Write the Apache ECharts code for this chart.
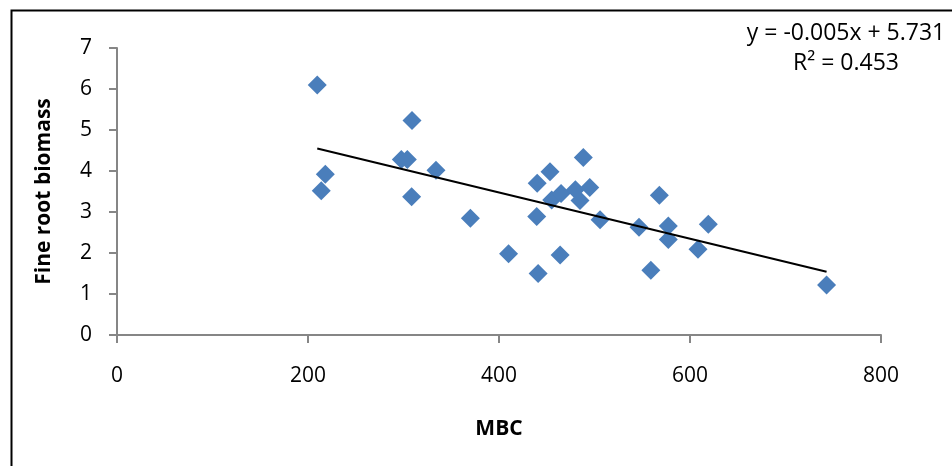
<!DOCTYPE html>
<html>
<head>
<meta charset="utf-8">
<script src="https://cdn.jsdelivr.net/npm/echarts@6/dist/echarts.min.js"></script>
<style>
html,body{margin:0;padding:0;background:#fff;}
#chart{width:952px;height:466px;}
</style>
</head>
<body>
<div id="chart"></div>
<script>
var mbc = [209.7,308.9,218.1,213.9,297.7,304,334,308.5,370,410,440,453.4,488.3,439.5,455.2,465,480,495,484.8,505.8,464,441,546.6,559,567.9,577.3,577.3,619.2,608.4,743];
var fineRoot = [6.10,5.23,3.92,3.52,4.28,4.28,4.02,3.37,2.85,1.98,3.70,3.98,4.33,2.89,3.29,3.45,3.54,3.60,3.28,2.81,1.95,1.50,2.63,1.58,3.41,2.66,2.33,2.70,2.09,1.22];
var xTicks = [0,200,400,600,800];
var yTicks = [0,1,2,3,4,5,6,7];
var equationText = 'y = -0.005x + 5.731';
var r2Text = 'R² = 0.453';
var xTitle = 'MBC';
var yTitle = 'Fine root biomass';

// least-squares trend line derived from the data
var n = mbc.length, sx=0, sy=0, sxx=0, sxy=0;
for (var i=0;i<n;i++){sx+=mbc[i];sy+=fineRoot[i];sxx+=mbc[i]*mbc[i];sxy+=mbc[i]*fineRoot[i];}
var slope = (n*sxy - sx*sy)/(n*sxx - sx*sx);
var intercept = (sy - slope*sx)/n;
var xmin = Math.min.apply(null, mbc), xmax = Math.max.apply(null, mbc);
var trend = [[xmin, intercept + slope*xmin],[xmax, intercept + slope*xmax]];

var points = mbc.map(function(x,i){return [x, fineRoot[i]];});
var font = '"Open Sans", sans-serif';
var axisColor = '#868686';

var chart = echarts.init(document.getElementById('chart'));
chart.setOption({
  animation:false,
  backgroundColor:'#fff',
  grid:{left:117, top:48, right:71, bottom:131, containLabel:false},
  xAxis:{
    type:'value', min:xTicks[0], max:xTicks[xTicks.length-1], interval:200,
    name:xTitle, nameLocation:'middle', nameGap:84,
    nameTextStyle:{fontFamily:font, fontSize:21, fontWeight:'bold', color:'#000'},
    axisLine:{show:true, onZero:false, lineStyle:{color:axisColor, width:2}},
    axisTick:{show:true, length:8, inside:false, lineStyle:{color:axisColor, width:2}},
    axisLabel:{fontFamily:font, fontSize:21, color:'#000', margin:31},
    splitLine:{show:false}
  },
  yAxis:{
    type:'value', min:yTicks[0], max:yTicks[yTicks.length-1], interval:1,
    name:yTitle, nameLocation:'middle', nameGap:62, nameRotate:90,
    nameTextStyle:{fontFamily:font, fontSize:21, fontWeight:'bold', color:'#000'},
    axisLine:{show:true, onZero:false, lineStyle:{color:axisColor, width:2}},
    axisTick:{show:true, length:8, inside:false, lineStyle:{color:axisColor, width:2}},
    axisLabel:{fontFamily:font, fontSize:21, color:'#000', margin:25},
    splitLine:{show:false}
  },
  series:[
    {
      type:'line', data:trend, showSymbol:false, symbol:'none',
      lineStyle:{color:'#000', width:2}, z:3, silent:true
    },
    {
      type:'scatter', data:points, symbol:'diamond', symbolSize:[19,19],
      itemStyle:{color:'#4a7ebb', opacity:1}, z:2
    }
  ],
  graphic:[
    {type:'rect', left:9, top:8, shape:{x:0,y:0,width:980,height:500},
     style:{fill:'none', stroke:'#000', lineWidth:2}, silent:true},
    {type:'text', x:846, y:33,
     style:{text:equationText, font:'23px "Open Sans", sans-serif', fill:'#000', align:'center', verticalAlign:'middle'}},
    {type:'text', x:846, y:63,
     style:{text:r2Text, font:'23px "Open Sans", sans-serif', fill:'#000', align:'center', verticalAlign:'middle'}}
  ]
});
</script>
</body>
</html>
